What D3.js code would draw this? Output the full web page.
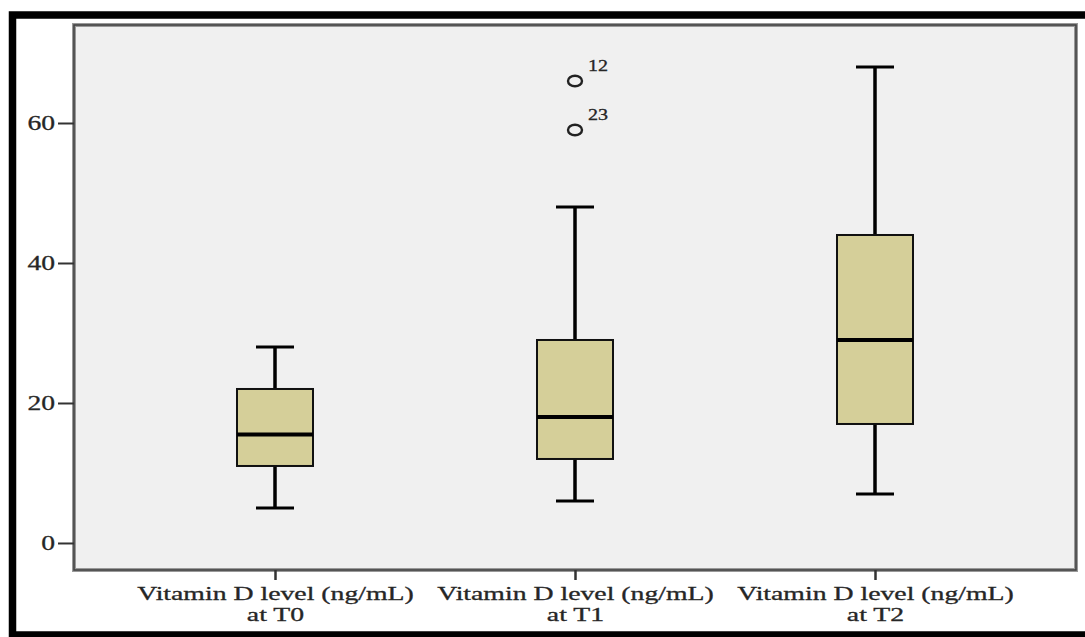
<!DOCTYPE html>
<html><head><meta charset="utf-8">
<script src="https://cdn.jsdelivr.net/npm/d3@7"></script>
<style>html,body{margin:0;padding:0;background:#fff;}svg{display:block;}</style>
</head><body>
<svg id="c" width="1085" height="637"></svg>
<script>
const categories = ["Vitamin D level (ng/mL)|at T0", "Vitamin D level (ng/mL)|at T1", "Vitamin D level (ng/mL)|at T2"];
const whiskerLow = [5, 6, 7];
const q1 = [11, 12, 17];
const median = [15.5, 18, 29];
const q3 = [22, 29, 44];
const whiskerHigh = [28, 48, 68];
const outlierCat = [1, 1];
const outlierVal = [66, 59];
const outlierLabel = ["12", "23"];
const yTicks = [0, 20, 40, 60];

const svg = d3.select("#c");
const L = 74, R = 1076, T = 25, B = 570;
const font = "'Liberation Serif','Times New Roman',serif";
const txt = "#262626";

// outer black frame
svg.append("rect").attr("x", 12.5).attr("y", 15).attr("width", 1100).attr("height", 620)
  .attr("fill", "none").attr("stroke", "#000").attr("stroke-width", 7.5);

const y = d3.scaleLinear().domain([-3.86, 74]).range([B, T]);
const x = d3.scalePoint().domain(categories).range([L, R]).padding(0.67);

// plot background
svg.append("rect").attr("x", L).attr("y", T).attr("width", R - L).attr("height", B - T)
  .attr("fill", "#f0f0f0").attr("stroke", "#999").attr("stroke-width", 4);
svg.append("rect").attr("x", L).attr("y", T).attr("width", R - L).attr("height", B - T)
  .attr("fill", "none").attr("stroke", "#444").attr("stroke-width", 1.6);

// y axis
const yAxis = svg.append("g").attr("transform", `translate(${L},0)`)
  .call(d3.axisLeft(y).tickValues(yTicks).tickSize(16).tickPadding(3).tickFormat(d3.format("d")));
yAxis.select(".domain").remove();
yAxis.selectAll(".tick line").attr("stroke", "#333").attr("stroke-width", 2);
yAxis.selectAll(".tick text").attr("fill", txt).attr("font-family", font).attr("font-size", 20)
  .attr("stroke", txt).attr("stroke-width", 0.3)
  .attr("dy", "0.35em")
  .each(function() {
    const t = d3.select(this);
    const xx = +t.attr("x");
    t.attr("x", null).attr("transform", `translate(${xx},0) scale(1.38,1)`);
  });

// x axis
const xAxis = svg.append("g").attr("transform", `translate(0,${B})`)
  .call(d3.axisBottom(x).tickSize(10).tickFormat(""));
xAxis.select(".domain").remove();
xAxis.selectAll(".tick line").attr("stroke", "#333").attr("stroke-width", 2.5);
xAxis.selectAll(".tick").each(function(d) {
  const parts = d.split("|");
  const t = d3.select(this).append("text").attr("text-anchor", "middle").attr("fill", txt)
    .attr("stroke", txt).attr("stroke-width", 0.3)
    .attr("font-family", font).attr("font-size", 18.5)
    .attr("transform", `translate(0,29.5) scale(1.5,1)`);
  parts.forEach((p, i) => {
    t.append("tspan").text(p).attr("x", 0).attr("y", i * 21.5);
  });
});

// boxes
const bw = 76, cw = 38;
const boxes = svg.append("g");
categories.forEach((c, i) => {
  const cx = x(c);
  const g = boxes.append("g");
  g.append("line").attr("x1", cx).attr("x2", cx).attr("y1", y(whiskerLow[i])).attr("y2", y(q1[i]))
    .attr("stroke", "#000").attr("stroke-width", 3.5);
  g.append("line").attr("x1", cx).attr("x2", cx).attr("y1", y(q3[i])).attr("y2", y(whiskerHigh[i]))
    .attr("stroke", "#000").attr("stroke-width", 3.5);
  g.append("line").attr("x1", cx - cw / 2).attr("x2", cx + cw / 2).attr("y1", y(whiskerLow[i])).attr("y2", y(whiskerLow[i]))
    .attr("stroke", "#000").attr("stroke-width", 2.8);
  g.append("line").attr("x1", cx - cw / 2).attr("x2", cx + cw / 2).attr("y1", y(whiskerHigh[i])).attr("y2", y(whiskerHigh[i]))
    .attr("stroke", "#000").attr("stroke-width", 2.8);
  g.append("rect").attr("x", cx - bw / 2).attr("y", y(q3[i])).attr("width", bw).attr("height", y(q1[i]) - y(q3[i]))
    .attr("fill", "#d5cf99").attr("stroke", "#111").attr("stroke-width", 2);
  g.append("line").attr("x1", cx - bw / 2).attr("x2", cx + bw / 2).attr("y1", y(median[i])).attr("y2", y(median[i]))
    .attr("stroke", "#000").attr("stroke-width", 4);
});

// outliers
outlierVal.forEach((v, i) => {
  const cx = x(categories[outlierCat[i]]);
  svg.append("ellipse").attr("cx", cx).attr("cy", y(v)).attr("rx", 7).attr("ry", 5.3)
    .attr("fill", "none").attr("stroke", "#222").attr("stroke-width", 2.4);
  svg.append("text").text(outlierLabel[i]).attr("fill", txt).attr("font-family", font).attr("font-size", 16)
    .attr("stroke", txt).attr("stroke-width", 0.3)
    .attr("transform", `translate(${cx + 13},${y(v) - 10}) scale(1.25,1)`);
});
</script>
</body></html>
